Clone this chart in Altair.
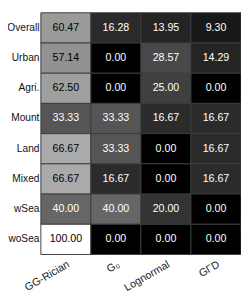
import altair as alt
import pandas as pd

rows = ["Overall", "Urban", "Agri.", "Mount", "Land", "Mixed", "wSea", "woSea"]
cols = ["GG-Rician", "G₀", "Lognormal", "GΓD"]

gg_rician = [60.47, 57.14, 62.50, 33.33, 66.67, 66.67, 40.00, 100.00]
g0 = [16.28, 0.00, 0.00, 33.33, 33.33, 16.67, 40.00, 0.00]
lognormal = [13.95, 28.57, 25.00, 16.67, 0.00, 0.00, 20.00, 0.00]
gGammaD = [9.30, 14.29, 0.00, 16.67, 16.67, 16.67, 0.00, 0.00]

series = [gg_rician, g0, lognormal, gGammaD]
records = []
for c, vals in zip(cols, series):
    for r, v in zip(rows, vals):
        records.append({"row": r, "col": c, "value": v})
df = pd.DataFrame(records)

base = alt.Chart(df).encode(
    x=alt.X("col:N", sort=cols, title=None,
            axis=alt.Axis(labelAngle=330, ticks=False, domain=False,
                          labelFontSize=11, labelPadding=4, labelColor="#222",
                          labelAlign="right", labelBaseline="top")),
    y=alt.Y("row:N", sort=rows, title=None,
            axis=alt.Axis(ticks=False, domain=False, labelFontSize=10.5,
                          labelPadding=2, labelColor="#111")),
)

rects = base.mark_rect(stroke="#3c3c3c", strokeWidth=1).encode(
    color=alt.Color("value:Q", legend=None,
                    scale=alt.Scale(domain=[0, 100], range=["#000000", "#ffffff"],
                                    interpolate="rgb")),
)

texts = base.mark_text(fontSize=11, font="Liberation Sans").encode(
    text=alt.Text("value:Q", format=".2f"),
    color=alt.condition(alt.datum.value < 50, alt.value("white"), alt.value("black")),
)

chart = (rects + texts).properties(
    width=207, height=250,
    autosize=alt.AutoSizeParams(type="none"),
    padding={"left": 34, "top": 0, "right": 0, "bottom": 38},
).configure_view(stroke=None).configure_axis(
    labelFont="Liberation Sans", grid=False
).configure_scale(bandPaddingInner=0, bandPaddingOuter=0)

chart.save("out.html", embed_options={"renderer": "svg", "actions": False})
